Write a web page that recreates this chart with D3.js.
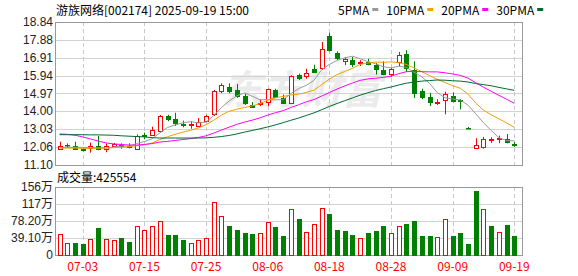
<!DOCTYPE html>
<html>
<head>
<meta charset="utf-8">
<script src="https://cdn.jsdelivr.net/npm/d3@7"></script>
<style>
body { margin: 0; background: #fff; }
svg text { font-family: "Noto Sans CJK SC", sans-serif; }
</style>
</head>
<body>
<svg id="chart" width="578" height="276"></svg>
<script>
var dates = ["06-30","07-01","07-02","07-03","07-04","07-07","07-08","07-09","07-10","07-11",
    "07-14","07-15","07-16","07-17","07-18","07-21","07-22","07-23","07-24","07-25",
    "07-28","07-29","07-30","07-31","08-01","08-04","08-05","08-06","08-07","08-08",
    "08-11","08-12","08-13","08-14","08-15","08-18","08-19","08-20","08-21","08-22",
    "08-25","08-26","08-27","08-28","08-29","09-01","09-02","09-03","09-04","09-05",
    "09-08","09-09","09-10","09-11","09-12","09-15","09-16","09-17","09-18","09-19"];

var open = [11.98,12.16,12.13,11.95,11.98,12.13,11.97,12.13,12.18,12.15,
    11.98,12.75,12.71,12.94,13.75,13.57,13.30,13.25,13.25,13.50,
    13.86,15.12,15.34,15.16,14.84,14.33,14.40,14.51,15.14,14.73,
    14.46,15.96,15.92,16.31,16.31,18.08,17.18,16.71,16.77,16.60,
    16.69,16.53,16.23,15.99,16.64,17.09,16.23,15.11,14.76,14.49,
    14.62,14.85,14.62,13.10,12.06,12.08,12.45,12.51,12.49,12.22];
var high = [12.36,12.27,12.36,12.00,12.31,12.67,12.27,12.29,12.27,12.27,
    12.76,12.85,13.17,13.81,13.82,13.93,13.50,13.47,13.64,13.81,
    15.16,15.52,15.52,15.48,14.98,14.51,14.66,15.23,15.23,14.91,
    15.96,16.05,16.31,16.53,17.76,18.26,17.25,16.95,16.95,16.77,
    16.85,16.62,16.71,16.35,17.22,17.31,16.71,15.23,15.01,14.66,
    15.07,15.03,14.66,13.16,12.55,12.62,12.60,12.69,12.78,12.34];
var low = [11.91,12.02,11.91,11.83,11.77,11.90,11.79,12.09,11.98,12.00,
    11.91,12.49,12.67,12.85,13.47,13.21,13.14,13.06,13.21,13.44,
    13.75,14.98,14.98,14.74,14.35,14.19,14.29,14.29,14.73,14.42,
    14.42,15.70,15.77,16.10,16.24,17.25,16.77,16.50,16.40,16.46,
    16.50,15.99,15.96,15.86,16.44,16.13,14.73,14.66,14.29,14.35,
    13.84,14.49,14.11,13.05,12.06,11.99,12.29,12.28,12.27,12.08];
var close = [12.13,12.14,11.98,11.90,12.11,11.97,12.11,12.25,12.14,12.12,
    12.67,12.68,12.99,13.75,13.57,13.36,13.23,13.32,13.44,13.75,
    15.11,15.43,15.12,14.85,14.47,14.24,14.45,15.20,14.78,14.47,
    15.90,15.79,16.10,16.13,17.36,17.31,16.89,16.82,16.55,16.67,
    16.57,16.31,15.99,16.28,17.04,16.31,14.96,14.78,14.51,14.53,
    14.94,14.58,14.55,13.10,12.20,12.51,12.50,12.58,12.33,12.15];

// 万手
var volume = [47.3,26.7,26.7,25.2,35.8,61.7,35.8,34.3,38.9,29.7,
    67.8,56.4,67.8,79.3,45.0,45.0,34.3,26.7,33.5,38.1,
    122.7,90.7,66.3,57.2,50.3,48.0,50.3,75.5,64.0,43.4,
    106.7,82.3,52.6,70.9,109.0,94.5,57.2,54.9,45.7,38.1,
    50.3,54.9,66.3,50.3,67.8,70.9,77.7,43.4,43.4,41.2,
    83.8,43.4,50.3,25.2,146.3,106.7,66.3,52.6,68.6,42.5554];

var ma5 = [12.04,12.05,12.06,12.05,12.05,12.02,12.01,12.07,12.12,12.12,
    12.26,12.37,12.52,12.84,13.13,13.27,13.38,13.45,13.38,13.42,
    13.77,14.21,14.57,14.85,15.00,14.82,14.63,14.64,14.63,14.63,
    14.96,15.23,15.41,15.68,16.26,16.54,16.76,16.90,16.99,16.85,
    16.70,16.58,16.42,16.36,16.44,16.39,16.12,15.87,15.52,15.02,
    14.74,14.67,14.62,14.34,13.87,13.39,12.97,12.58,12.42,12.41];
var ma10 = [12.02,12.02,12.01,12.00,12.00,12.01,12.02,12.04,12.06,12.09,
    12.14,12.19,12.29,12.48,12.63,12.76,12.88,12.98,13.11,13.28,
    13.52,13.80,14.01,14.12,14.21,14.30,14.42,14.61,14.74,14.81,
    14.89,14.93,15.03,15.15,15.44,15.75,15.99,16.16,16.33,16.55,
    16.62,16.67,16.66,16.68,16.64,16.54,16.35,16.15,15.94,15.73,
    15.57,15.39,15.25,14.93,14.45,14.07,13.82,13.60,13.38,13.14];
var ma20 = [12.78,12.76,12.71,12.62,12.51,12.40,12.30,12.24,12.21,12.18,
    12.18,12.21,12.26,12.34,12.38,12.43,12.48,12.53,12.59,12.68,
    12.83,12.99,13.15,13.30,13.42,13.53,13.65,13.80,13.93,14.04,
    14.21,14.36,14.52,14.64,14.83,15.02,15.21,15.38,15.54,15.68,
    15.76,15.80,15.84,15.91,16.04,16.15,16.17,16.15,16.14,16.14,
    16.09,16.03,15.95,15.80,15.55,15.31,15.09,14.87,14.66,14.44];
var ma30 = [12.74,12.74,12.74,12.74,12.73,12.73,12.72,12.71,12.68,12.66,
    12.64,12.62,12.58,12.56,12.56,12.56,12.56,12.56,12.56,12.57,
    12.60,12.64,12.70,12.78,12.88,12.97,13.06,13.16,13.27,13.39,
    13.52,13.64,13.78,13.92,14.09,14.27,14.43,14.58,14.73,14.88,
    15.01,15.13,15.23,15.32,15.43,15.53,15.59,15.64,15.67,15.70,
    15.69,15.66,15.64,15.59,15.51,15.45,15.39,15.30,15.22,15.14];

var priceTicks = ["11.10","12.06","13.03","14.00","14.97","15.94","16.91","17.88","18.84"];
var volTicks = [0, 39.1, 78.2, 117.3, 156.4];
var volTickLabels = ["0","39.10万","78.20万","117万","156万"];
var dateTicks = ["07-03","07-15","07-25","08-06","08-18","08-28","09-09","09-19"];

var maSeries = [
    { name: "5PMA", values: ma5, color: "#9a9a9a" },
    { name: "10PMA", values: ma10, color: "#f0a000" },
    { name: "20PMA", values: ma20, color: "#ff00ff" },
    { name: "30PMA", values: ma30, color: "#006b30" }
];

var red = "#ff0000", green = "#008000";
var left = 55, right = 522;
var mainTop = 22, mainBottom = 165;
var volTop = 187, volBottom = 255;

var svg = d3.select("#chart");

var x = d3.scaleLinear().domain([-0.6, 60]).range([left, right]);
var y = d3.scaleLinear().domain([11.10, 18.84]).range([mainBottom, mainTop]);
var yv = d3.scaleLinear().domain([0, 156.4]).range([volBottom, volTop]);

function px(v) { return Math.round(v) + 0.5; }
function up(i) {
    if (close[i] > open[i]) return true;
    if (close[i] < open[i]) return false;
    return i == 0 || close[i] >= close[i - 1];
}
function volUp(i) { return i == 0 || close[i] >= close[i - 1]; }

// header
svg.append("text")
    .attr("x", 56).attr("y", 15)
    .style("font-size", "12px").attr("fill", "#000")
    .text("游族网络[002174] 2025-09-19 15:00");

var legend = svg.append("g").attr("transform", "translate(338,15)");
var lx = 0;
maSeries.forEach(function(s) {
    var t = legend.append("text").attr("x", lx).attr("y", 0)
        .style("font-size", "12px").attr("fill", "#000").text(s.name);
    var w = t.node().getComputedTextLength();
    legend.append("rect").attr("x", lx + w + 3).attr("y", -7)
        .attr("width", 6).attr("height", 3).attr("fill", s.color);
    lx += w + 17;
});

// watermark
svg.append("text")
    .attr("x", 222).attr("y", 104)
    .style("font-size", "40px").style("font-weight", "bold").style("font-style", "italic")
    .attr("fill", "#ebebeb")
    .text("东方财富");

// grids
var grid = svg.append("g");
grid.selectAll(".hp").data(priceTicks).enter().append("line")
    .attr("x1", left).attr("x2", right)
    .attr("y1", function(d) { return px(y(+d)); })
    .attr("y2", function(d) { return px(y(+d)); })
    .attr("stroke", "#d3d3d3");
grid.selectAll(".hv").data(volTicks).enter().append("line")
    .attr("x1", left).attr("x2", right)
    .attr("y1", function(d) { return px(yv(d)); })
    .attr("y2", function(d) { return px(yv(d)); })
    .attr("stroke", "#d3d3d3");
dateTicks.forEach(function(d) {
    var xi = px(x(dates.indexOf(d)));
    [[mainTop, mainBottom], [volTop, volBottom]].forEach(function(r) {
        grid.append("line")
            .attr("x1", xi).attr("x2", xi).attr("y1", r[0]).attr("y2", r[1])
            .attr("stroke", "#c8c8c8").attr("stroke-dasharray", "4,3");
    });
});

// frames
[[mainTop, mainBottom], [volTop, volBottom]].forEach(function(r) {
    svg.append("rect")
        .attr("x", left + 0.5).attr("y", r[0] + 0.5)
        .attr("width", right - left).attr("height", r[1] - r[0])
        .attr("fill", "none").attr("stroke", "#999");
});

// axis labels
svg.append("g").selectAll("text").data(priceTicks).enter().append("text")
    .attr("x", 53).attr("y", function(d) { return y(+d) + 4; })
    .attr("text-anchor", "end")
    .style("font-size", "12px").style("font-family", "'Liberation Sans', Arial, sans-serif")
    .attr("fill", "#222")
    .text(function(d) { return d; });

svg.append("g").selectAll("text").data(volTicks).enter().append("text")
    .attr("x", 53).attr("y", function(d) { return yv(d) + 4; })
    .attr("text-anchor", "end")
    .style("font-size", "12px").style("font-family", "'Liberation Sans', 'Noto Sans CJK SC', sans-serif")
    .attr("fill", "#222")
    .text(function(d, i) { return volTickLabels[i]; });

svg.append("g").selectAll("text").data(dateTicks).enter().append("text")
    .attr("x", function(d) { return x(dates.indexOf(d)); })
    .attr("y", 271)
    .attr("text-anchor", "middle")
    .style("font-size", "12px")
    .attr("fill", red)
    .text(function(d) { return d; });

svg.append("text")
    .attr("x", 57).attr("y", 182)
    .style("font-size", "12px").attr("fill", "#000")
    .text("成交量:" + Math.round(volume[volume.length - 1] * 10000));

// candles
var candles = svg.append("g").selectAll("g").data(dates).enter().append("g");
candles.append("line")
    .attr("x1", function(d, i) { return px(x(i)); })
    .attr("x2", function(d, i) { return px(x(i)); })
    .attr("y1", function(d, i) { return y(high[i]); })
    .attr("y2", function(d, i) { return y(low[i]); })
    .attr("stroke", function(d, i) { return up(i) ? red : green; });
candles.append("rect")
    .attr("x", function(d, i) { return px(x(i)) - 2; })
    .attr("y", function(d, i) { return Math.round(y(Math.max(open[i], close[i]))) + 0.5; })
    .attr("width", 4)
    .attr("height", function(d, i) { return Math.max(0.5, Math.round(Math.abs(y(open[i]) - y(close[i])))); })
    .attr("fill", function(d, i) { return up(i) ? "#fff" : green; })
    .attr("stroke", function(d, i) { return up(i) ? red : green; });

// moving averages
var line = d3.line()
    .x(function(d, i) { return x(i); })
    .y(function(d) { return y(d); });
svg.append("g").selectAll("path").data(maSeries).enter().append("path")
    .attr("d", function(s) { return line(s.values); })
    .attr("fill", "none")
    .attr("stroke", function(s) { return s.color; })
    .attr("stroke-width", 1);

// volume
svg.append("g").selectAll("rect").data(volume).enter().append("rect")
    .attr("x", function(d, i) { return px(x(i)) - 2; })
    .attr("y", function(d) { return Math.round(yv(d)) + 0.5; })
    .attr("width", 4)
    .attr("height", function(d) { return volBottom - Math.round(yv(d)); })
    .attr("fill", function(d, i) { return volUp(i) ? "#fff" : green; })
    .attr("stroke", function(d, i) { return volUp(i) ? red : green; });
</script>
</body>
</html>
